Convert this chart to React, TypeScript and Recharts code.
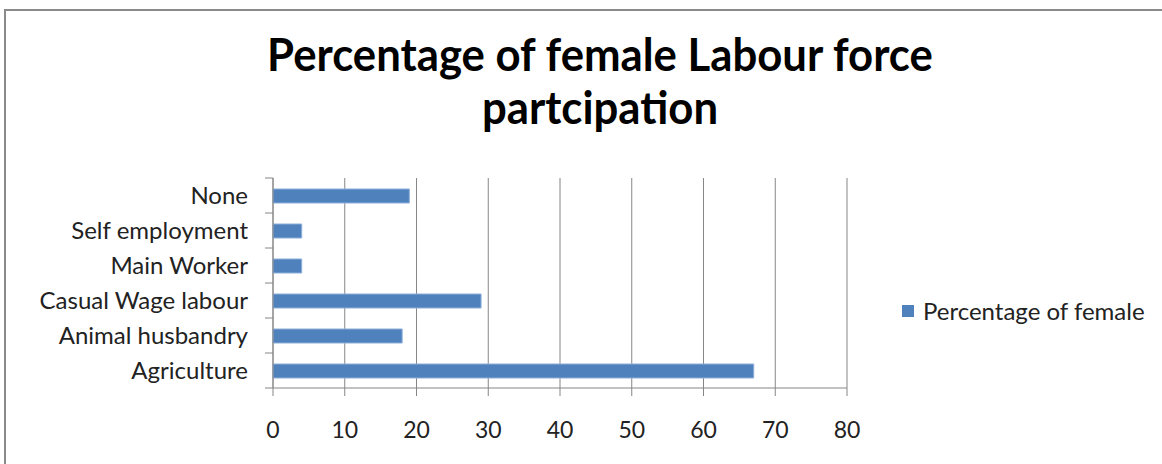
import React from "react";
import { BarChart, Bar, XAxis, YAxis, CartesianGrid } from "recharts";

// Categories in sheet order (bottom to top on the chart)
const categories = [
  "Agriculture",
  "Animal husbandry",
  "Casual Wage labour",
  "Main Worker",
  "Self employment",
  "None",
];
const femalePercent = [67, 18, 29, 4, 4, 19];
const xTicks = [0, 10, 20, 30, 40, 50, 60, 70, 80];

const seriesName = "Percentage of female";
const titleLines = ["Percentage of female Labour force", "partcipation"];

const W = 1162;
const H = 464;
const PLOT_LEFT = 273;
const PLOT_TOP = 178;
const PLOT_BOTTOM = 388;
const PLOT_RIGHT = 847;
const BAND = (PLOT_BOTTOM - PLOT_TOP) / categories.length;

const AXIS = "#868686";
const BLUE = "#4F81BD";
const FONT = "Lato, 'Open Sans', sans-serif";

const data = categories.map((name, i) => ({ name, value: femalePercent[i] }));

// category label plus Excel-style tick marks on the band boundaries
const CategoryTick = (props: any) => {
  const { y, payload, index } = props;
  return (
    <g>
      <text
        x={PLOT_LEFT - 25}
        y={y}
        dy={8}
        textAnchor="end"
        fontFamily={FONT}
        fontSize={24}
        fill="#222"
      >
        {payload.value}
      </text>
      <line x1={PLOT_LEFT - 8} x2={PLOT_LEFT} y1={y - BAND / 2} y2={y - BAND / 2} stroke={AXIS} />
      {index === 0 && (
        <line x1={PLOT_LEFT - 8} x2={PLOT_LEFT} y1={y + BAND / 2} y2={y + BAND / 2} stroke={AXIS} />
      )}
    </g>
  );
};

export default function App() {
  return (
    <div style={{ position: "fixed", left: 0, top: 0, width: W, height: H, background: "#fff", overflow: "hidden" }}>
      <div
        style={{
          position: "absolute",
          left: 4,
          top: 9,
          width: W + 20,
          height: H + 20,
          borderLeft: "2px solid #8a8a8a",
          borderTop: "2px solid #8a8a8a",
        }}
      />
      <div
        style={{
          position: "absolute",
          left: 0,
          top: 27,
          width: 1200,
          textAlign: "center",
          fontFamily: FONT,
          fontWeight: 700,
          fontSize: 46,
          lineHeight: "53px",
          color: "#000",
          transform: "scaleX(0.95)",
          transformOrigin: "600px 0",
        }}
      >
        {titleLines.map((t) => (
          <div key={t}>{t}</div>
        ))}
      </div>
      <div style={{ position: "absolute", left: 0, top: 0 }}>
        <BarChart
          width={W}
          height={H}
          data={data}
          layout="vertical"
          margin={{ top: PLOT_TOP, right: W - PLOT_RIGHT, left: 0, bottom: 0 }}
        >
          <CartesianGrid horizontal={false} vertical stroke={AXIS} strokeWidth={1} />
          <XAxis
            type="number"
            domain={[0, 80]}
            ticks={xTicks}
            interval={0}
            height={H - PLOT_BOTTOM}
            axisLine={{ stroke: AXIS }}
            tickLine={{ stroke: AXIS }}
            tickSize={8}
            tickMargin={26}
            tick={{ fill: "#222", fontSize: 23, fontFamily: FONT }}
          />
          <YAxis
            type="category"
            dataKey="name"
            reversed
            width={PLOT_LEFT}
            axisLine={{ stroke: AXIS }}
            tickLine={false}
            interval={0}
            tick={<CategoryTick />}
          />
          <Bar
            dataKey="value"
            name={seriesName}
            fill={BLUE}
            stroke="#8DAEDA"
            strokeWidth={1}
            barSize={14}
            isAnimationActive={false}
          />
        </BarChart>
      </div>
      <div
        style={{
          position: "absolute",
          left: 902,
          top: 296,
          display: "flex",
          alignItems: "center",
          fontFamily: FONT,
          fontSize: 24,
          color: "#222",
          whiteSpace: "nowrap",
        }}
      >
        <span style={{ width: 12, height: 12, background: BLUE, marginRight: 9, display: "inline-block" }} />
        {seriesName}
      </div>
    </div>
  );
}
